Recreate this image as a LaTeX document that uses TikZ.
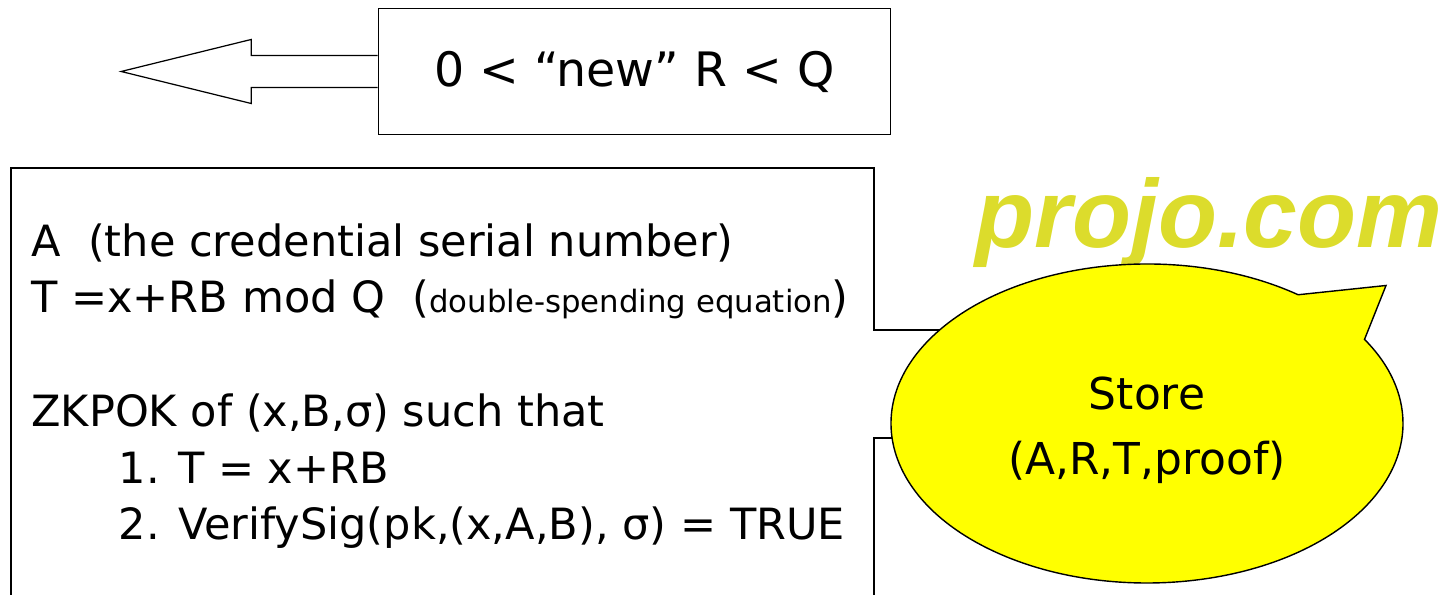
\documentclass[tikz,border=0pt]{standalone}
\usepackage{fontspec}
\setmainfont{DejaVu Sans}
\newfontfamily\markfont{Liberation Sans}
\usetikzlibrary{shapes.callouts,positioning,calc}
\definecolor{callfill}{HTML}{FFFF00}
\definecolor{markgreen}{HTML}{DCDC2C}
\tikzset{plainbox/.style={draw=black,line width=0.7pt,fill=white},
 blockarrow/.style={draw=black,line width=0.7pt,fill=white},
 credtext/.style={anchor=north west,align=left,inner sep=0pt,font=\fontsize{24.5}{32.3}\selectfont},
 storecallout/.style={ellipse callout,draw=black,line width=0.8pt,fill=callfill,align=center,
 font=\fontsize{25}{36.9}\selectfont,minimum width=10.24cm,minimum height=6.38cm,callout pointer arc=22},
 watermark/.style={font=\markfont\bfseries\itshape\fontsize{55}{60}\selectfont,inner sep=0pt,anchor=base}}

\begin{document}
\begin{tikzpicture}
\clip (0,0) rectangle (29.12,11.9);
% big box, its right side runs in behind the callout
\draw[line width=0.7pt] (0.22,-0.3) -- (0.22,8.54) -- (17.48,8.54) -- (17.48,5.3) -- (20,5.3) -- (20,3.14) -- (17.48,3.14) -- (17.48,-0.3);
\node[credtext] (creds) at (0.62,7.44) {A\ \ (the credential serial number)\\
T =x+RB mod Q\ \ ({\fontsize{17.5}{32.3}\selectfont double-spending equation})\\[32.3pt]
ZKPOK of (x,B,σ) such that\\
\hspace*{1.75cm}1. T = x+RB\\
\hspace*{1.75cm}2. VerifySig(pk,(x,A,B), σ) = TRUE};
% top box with the hollow arrow
\node[plainbox,minimum width=10.25cm,minimum height=2.53cm,font=\fontsize{27}{34}\selectfont] (rbox) at (12.69,10.47) {0 < “new” R < Q};
\draw[blockarrow] (rbox.west) +(0,0.32) -- +(-2.53,0.32) -- +(-2.53,0.64) -- +(-5.13,0) -- +(-2.53,-0.64) -- +(-2.53,-0.32) -- +(0,-0.32);
% watermark
\node[watermark,text=markgreen] (mark) at (24.18,6.94) {projo.com};
% callout
\coordinate (tip) at (27.72,6.19);
\node[storecallout,callout absolute pointer={(tip)}] (store) at (22.94,3.43) {\rule{0pt}{0.92cm}Store\\(A,R,T,proof)};
\end{tikzpicture}
\end{document}
